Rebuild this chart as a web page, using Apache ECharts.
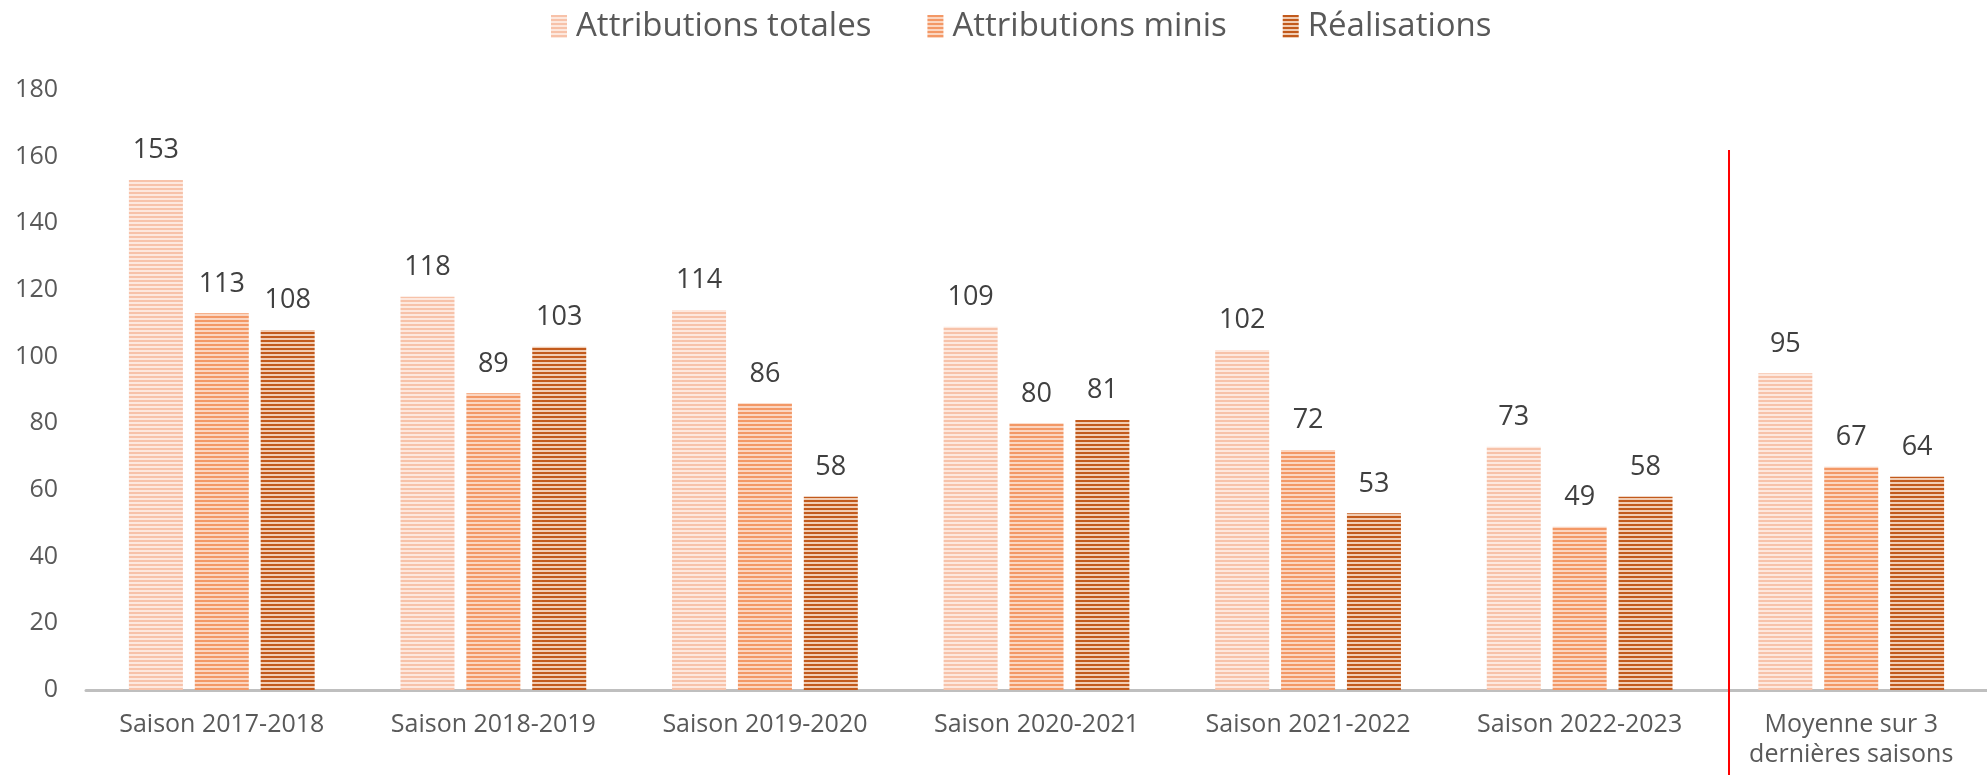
<!DOCTYPE html>
<html>
<head>
<meta charset="utf-8">
<script src="https://cdn.jsdelivr.net/npm/echarts@6/dist/echarts.min.js"></script>
<style>
  html, body { margin: 0; padding: 0; background: #fff; }
  #chart { width: 1987px; height: 775px; }
</style>
</head>
<body>
<div id="chart"></div>
<script>
const categories = [
  'Saison 2017-2018',
  'Saison 2018-2019',
  'Saison 2019-2020',
  'Saison 2020-2021',
  'Saison 2021-2022',
  'Saison 2022-2023',
  'Moyenne sur 3\ndernières saisons'
];
const seriesNames = ['Attributions totales', 'Attributions minis', 'Réalisations'];
const totales = [153, 118, 114, 109, 102, 73, 95];
const minis = [113, 89, 86, 80, 72, 49, 67];
const realisations = [108, 103, 58, 81, 53, 58, 64];
const yTicks = { min: 0, max: 180, interval: 20 };
// separator sits a bit after the middle between the last season and the average
const separatorAt = 5.55;
const separatorTop = 162;

function stripes(color, light) {
  const c = document.createElement('canvas');
  c.width = 8;
  c.height = 4;
  const ctx = c.getContext('2d');
  ctx.fillStyle = light;
  ctx.fillRect(0, 0, 8, 4);
  ctx.fillStyle = color;
  ctx.fillRect(0, 0, 8, 2);
  return { image: c, repeat: 'repeat' };
}

const fills = [
  stripes('#F7C2A9', '#FDE8DE'),
  stripes('#F39866', '#FBD6C1'),
  stripes('#C25A1C', '#F1CDB4')
];

const font = '"Open Sans", "Noto Sans", sans-serif';
const chart = echarts.init(document.getElementById('chart'));

function barSeries(name, data, i) {
  return {
    name: name,
    type: 'bar',
    data: data,
    barWidth: 54,
    barGap: '22%',
    itemStyle: { color: fills[i] },
    label: {
      show: true,
      position: 'top',
      distance: 16,
      color: '#404040',
      fontFamily: font,
      fontSize: 27
    }
  };
}

let option = {
  backgroundColor: '#fff',
  animation: false,
  legend: {
    top: 5,
    left: 546,
    itemWidth: 16,
    itemHeight: 23,
    itemGap: 56,
    icon: 'rect',
    textStyle: { color: '#595959', fontFamily: font, fontSize: 33, padding: [0, 0, 0, 4] },
    data: seriesNames
  },
  grid: { left: 86, right: 0, top: 90, bottom: 85, containLabel: false },
  xAxis: {
    type: 'category',
    data: categories,
    axisLine: { lineStyle: { color: '#BFBFBF', width: 3 } },
    axisTick: { show: false },
    axisLabel: {
      color: '#595959',
      fontFamily: font,
      fontSize: 25,
      lineHeight: 30,
      margin: 20,
      interval: 0
    }
  },
  yAxis: {
    type: 'value',
    min: yTicks.min,
    max: yTicks.max,
    interval: yTicks.interval,
    axisLine: { show: false },
    axisTick: { show: false },
    splitLine: { show: false },
    axisLabel: { color: '#595959', fontFamily: font, fontSize: 25, margin: 28 }
  },
  series: [
    barSeries(seriesNames[0], totales, 0),
    barSeries(seriesNames[1], minis, 1),
    barSeries(seriesNames[2], realisations, 2)
  ]
};

chart.setOption(option);

const x0 = chart.convertToPixel({ xAxisIndex: 0 }, Math.floor(separatorAt));
const x1 = chart.convertToPixel({ xAxisIndex: 0 }, Math.floor(separatorAt) + 1);
const sx = x0 + (x1 - x0) * (separatorAt - Math.floor(separatorAt));
const sy = chart.convertToPixel({ yAxisIndex: 0 }, separatorTop);

chart.setOption({
  graphic: [{
    type: 'line',
    shape: { x1: sx, y1: sy, x2: sx, y2: 775 },
    style: { stroke: '#FF0000', lineWidth: 2 },
    z: 10
  }]
});
</script>
</body>
</html>
